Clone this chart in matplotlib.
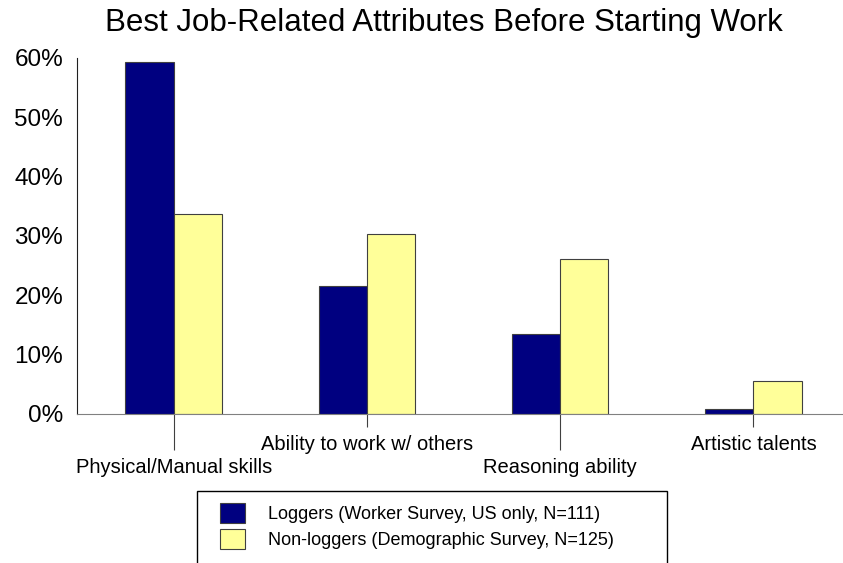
import numpy as np
import matplotlib.pyplot as plt
from matplotlib.patches import Rectangle
from matplotlib.ticker import PercentFormatter

categories = ['Physical/Manual skills', 'Ability to work w/ others',
              'Reasoning ability', 'Artistic talents']
loggers = [59.4, 21.6, 13.5, 0.9]
non_loggers = [33.7, 30.3, 26.2, 5.6]
series_labels = ['Loggers (Worker Survey, US only, N=111)',
                 'Non-loggers (Demographic Survey, N=125)']

plt.rcParams['font.family'] = ['Liberation Sans', 'DejaVu Sans']

fig = plt.figure(figsize=(8.43, 5.63), dpi=100)
ax = fig.add_axes([77 / 843, 1 - 414 / 563, 773 / 843, 356 / 563])

x = np.arange(len(categories))
w = 0.25
b1 = ax.bar(x - w / 2, loggers, w, color='#000080', edgecolor='#404040', linewidth=0.8)
b2 = ax.bar(x + w / 2, non_loggers, w, color='#FFFF99', edgecolor='#404040', linewidth=0.8)

ax.set_xlim(-0.5, len(categories) - 0.5)
ax.set_ylim(0, 60)
ax.set_yticks(np.arange(0, 61, 10))
ax.yaxis.set_major_formatter(PercentFormatter(decimals=0))
ax.tick_params(axis='y', length=0, pad=10, labelsize=17.5)

# staggered category labels: long ticks for 1st/3rd, short for 2nd/4th
ax.set_xticks(x[0::2], labels=categories[0::2])
ax.set_xticks(x[1::2], labels=categories[1::2], minor=True)
ax.tick_params(axis='x', which='major', length=26, width=0.8, color='#404040',
               pad=6, labelsize=14.5)
ax.tick_params(axis='x', which='minor', length=9, width=0.8, color='#404040',
               pad=6, labelsize=14.5)

for s in ['top', 'right']:
    ax.spines[s].set_visible(False)
ax.spines['left'].set_color('#202020')
ax.spines['bottom'].set_color('#808080')
ax.spines['left'].set_linewidth(0.8)
ax.spines['bottom'].set_linewidth(0.8)

fig.text(444 / 843, 1 - 23 / 563, 'Best Job-Related Attributes Before Starting Work',
         ha='center', va='center', fontsize=22.5)

# legend frame (runs off the bottom of the figure)
fig.patches.append(Rectangle((197 / 843, -0.05), 470 / 843, (1 - 491 / 563) + 0.05,
                             transform=fig.transFigure, facecolor='none',
                             edgecolor='black', linewidth=1))
fig.legend([b1, b2], series_labels, loc='upper left',
           bbox_to_anchor=(206 / 843, 1 - 489 / 563), frameon=False,
           fontsize=13, handlelength=1.35, handleheight=1.3,
           handletextpad=1.3, labelspacing=0.33, borderpad=0.3)

fig.savefig('out.png', dpi=100)
